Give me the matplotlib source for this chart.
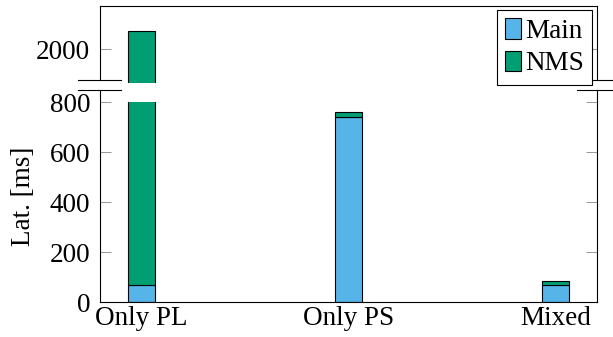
import matplotlib
matplotlib.use('Agg')
import matplotlib.pyplot as plt
from matplotlib.patches import Rectangle
from matplotlib.lines import Line2D

# data (latency in ms)
categories = ["Only PL", "Only PS", "Mixed"]
main_ms = [68, 742, 67]
nms_ms = [2004, 17, 18]
series_names = ["Main", "NMS"]
series_colors = ["#56B4E9", "#009E73"]

FS = 19.5
plt.rcParams['font.family'] = ['Liberation Serif', 'DejaVu Serif']
plt.rcParams['font.size'] = FS

W, H = 613, 337
fig = plt.figure(figsize=(W / 100, H / 100), dpi=100)


def frac(x0, y0, x1, y1):
    # pixel box (top-left origin) -> figure fraction rect
    return [x0 / W, 1 - y1 / H, (x1 - x0) / W, (y1 - y0) / H]


ax_top = fig.add_axes(frac(100, 6, 597, 80))
ax_bot = fig.add_axes(frac(100, 90, 597, 302))

xpos = list(range(len(categories)))
width = 0.127

for ax, clip_lo, clip_hi in [(ax_top, 1863, 2300), (ax_bot, 0, 800)]:
    b1 = ax.bar(xpos, main_ms, width, color=series_colors[0],
                edgecolor='black', linewidth=0.8, label=series_names[0])
    b2 = ax.bar(xpos, nms_ms, width, bottom=main_ms, color=series_colors[1],
                edgecolor='black', linewidth=0.8, label=series_names[1])
    clip = Rectangle((-0.5, clip_lo), 3.5, clip_hi - clip_lo, transform=ax.transData)
    for p in list(b1) + list(b2):
        p.set_clip_path(clip)
    ax.set_xlim(-0.2, 2.2)
    ax.tick_params(axis='y', direction='in', length=8, width=0.6, color='#888888',
                   right=True, labelsize=FS, pad=7)
    for s in ax.spines.values():
        s.set_linewidth(0.8)

ax_top.set_ylim(1876, 2172)
ax_top.set_yticks([2000])
ax_top.spines['bottom'].set_visible(False)
ax_top.tick_params(axis='x', bottom=False, labelbottom=False)

ax_bot.set_ylim(0, 848)
ax_bot.set_yticks([0, 200, 400, 600, 800])
ax_bot.spines['top'].set_visible(False)
ax_bot.set_xticks(xpos)
ax_bot.set_xticklabels(categories)
ax_bot.tick_params(axis='x', length=0, pad=3, labelsize=FS)
ax_bot.set_ylabel("Lat. [ms]", fontsize=FS, labelpad=10)

# break marks
for y in (80, 90):
    for x0, x1 in [(78, 121), (577, 618)]:
        fig.add_artist(Line2D([x0 / W, x1 / W], [1 - y / H, 1 - y / H],
                              transform=fig.transFigure, color='black', linewidth=0.8))

handles, labels = ax_bot.get_legend_handles_labels()
leg = fig.legend(handles, labels, loc='upper right',
                 bbox_to_anchor=(592 / W, 1 - 10 / H), bbox_transform=fig.transFigure,
                 fancybox=False, edgecolor='black', framealpha=1,
                 handlelength=0.6, handleheight=0.8, handletextpad=0.15,
                 borderpad=0.3, labelspacing=0.25, borderaxespad=0, fontsize=FS)
leg.get_frame().set_linewidth(0.8)
leg.set_zorder(10)

fig.savefig("out.png", dpi=100)
